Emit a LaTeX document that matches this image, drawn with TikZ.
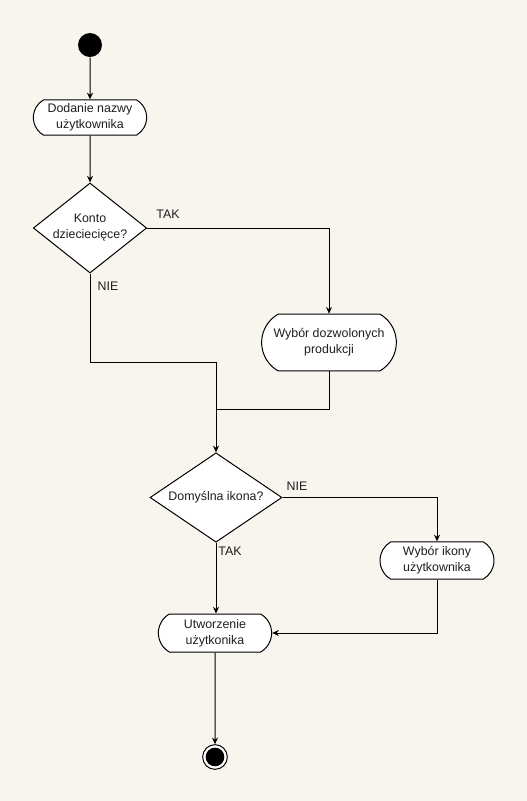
\documentclass[tikz,border=0pt]{standalone}
\usepackage{fontspec}
\setmainfont{Liberation Sans}
\usetikzlibrary{shapes.geometric,shapes.misc,arrows.meta}
\definecolor{paper}{RGB}{248,245,239}
\definecolor{ink}{RGB}{30,30,30}

\tikzset{
  akcja/.style={rounded rectangle, rounded rectangle arc length=120, draw=black,
    fill=white, align=center, inner sep=0pt, text=ink},
  decyzja/.style={diamond, draw=black, fill=white, align=center, inner sep=0pt,
    text=ink},
  strzalka/.style={-{Stealth[length=5pt,width=4.5pt]}},
  etykieta/.style={text=ink, inner sep=0pt}
}

\begin{document}
\begin{tikzpicture}[x=0.75pt,y=-0.75pt,font=\fontsize{9.3}{12}\selectfont,line width=0.75pt]
    \fill[paper] (0,0) rectangle (527,801);
    \useasboundingbox (0,0) rectangle (527,801);

    % start i koniec
    \node[circle, fill=black, minimum size=18pt, inner sep=0pt] (start) at (90,45) {};
    \node[circle, draw=black, fill=white, minimum size=18.5pt, inner sep=0pt] (koniec) at (215,757) {};
    \node[circle, fill=black, minimum size=14pt, inner sep=0pt] at (koniec) {};

    % akcje
    \node[akcja, minimum width=85pt, minimum height=26.5pt] (nazwa) at (90,117.5) {Dodanie nazwy\\użytkownika};
    \node[akcja, minimum width=101pt, minimum height=42.5pt] (produkcje) at (329,342.5) {Wybór dozwolonych\\produkcji};
    \node[akcja, minimum width=85.5pt, minimum height=28pt] (ikona) at (437,560.5) {Wybór ikony\\użytkownika};
    \node[akcja, minimum width=85pt, minimum height=28.5pt] (utworz) at (215,633) {Utworzenie\\użytkonika};

    % decyzje
    \node[decyzja, aspect=1.26, minimum width=85pt, minimum height=67.5pt] (konto) at (90,228) {Konto\\dzieciecięce?};
    \node[decyzja, aspect=1.48, minimum width=99pt, minimum height=67pt] (domyslna) at (216,497.5) {Domyślna ikona?};

    % punkty pomocnicze
    \coordinate (zlacz) at (216,362);
    \coordinate (scal) at (216,409);

    \draw[strzalka] (start) -- (nazwa);
    \draw[strzalka] (nazwa) -- (konto);
    \draw[strzalka] (konto.east) -| (produkcje.north);
    \draw (konto.south) |- (zlacz);
    \draw[strzalka] (zlacz) -- (domyslna.north);
    \draw (produkcje.south) |- (scal);
    \draw[strzalka] (domyslna.east) -| (ikona.north);
    \draw[strzalka] (domyslna.south) -- (domyslna.south |- utworz.north);
    \draw[strzalka] (ikona.south) |- (utworz.east);
    \draw[strzalka] (utworz) -- (koniec);

    % etykiety
    \node[etykieta] (tak1) at (168,214) {TAK};
    \node[etykieta] (nie1) at (108,286) {NIE};
    \node[etykieta] (nie2) at (297,486) {NIE};
    \node[etykieta] (tak2) at (230,551) {TAK};
\end{tikzpicture}
\end{document}
